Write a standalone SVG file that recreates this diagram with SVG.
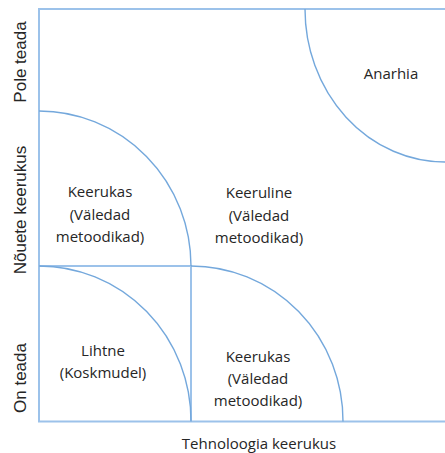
<svg xmlns="http://www.w3.org/2000/svg" width="445" height="453" viewBox="0 0 445 453">
  <style>
    .frame { fill: none; stroke: #9cc2ea; stroke-width: 2; }
    .arc { fill: none; stroke: #74a8dc; stroke-width: 1.4; }
    .lbl { font-family: "Open Sans", "Liberation Sans", sans-serif; font-size: 15px; fill: #262626; text-anchor: middle; }
    .axis { font-family: "Liberation Sans", Arial, sans-serif; font-size: 17px; fill: #262626; text-anchor: middle; }
  </style>
  <rect width="445" height="453" fill="#ffffff"/>
  <g id="grid">
    <path class="frame" d="M445,9 H39 V421.5 H445"/>
    <path class="frame" d="M39,266 H191 V421.5"/>
  </g>
  <g id="connectors">
    <path class="arc" d="M39,111 A152,155 0 0 1 191,266"/>
    <path class="arc" d="M39,266 A152,155 0 0 1 191,421.5"/>
    <path class="arc" d="M191,266 A152,155 0 0 1 343,421.5"/>
    <path class="arc" d="M305,9 A140,153 0 0 0 445,162"/>
  </g>
  <g id="anarhia">
    <text class="lbl" x="391" y="79">Anarhia</text>
  </g>
  <g id="keeruline">
    <text class="lbl" x="259" y="198">Keeruline</text>
    <text class="lbl" x="259" y="221">(Väledad</text>
    <text class="lbl" x="259" y="243">metoodikad)</text>
  </g>
  <g id="keerukas-left">
    <text class="lbl" x="100" y="197">Keerukas</text>
    <text class="lbl" x="100" y="220">(Väledad</text>
    <text class="lbl" x="100" y="242">metoodikad)</text>
  </g>
  <g id="lihtne">
    <text class="lbl" x="103" y="356">Lihtne</text>
    <text class="lbl" x="103" y="378">(Koskmudel)</text>
  </g>
  <g id="keerukas-right">
    <text class="lbl" x="258" y="362">Keerukas</text>
    <text class="lbl" x="258" y="384">(Väledad</text>
    <text class="lbl" x="258" y="406">metoodikad)</text>
  </g>
  <g id="axes">
    <text class="lbl" x="259" y="449">Tehnoloogia keerukus</text>
    <text class="axis" transform="translate(26,62) rotate(-90)">Pole teada</text>
    <text class="axis" transform="translate(26,210) rotate(-90)">Nõuete keerukus</text>
    <text class="axis" transform="translate(26,378) rotate(-90)">On teada</text>
  </g>
</svg>
